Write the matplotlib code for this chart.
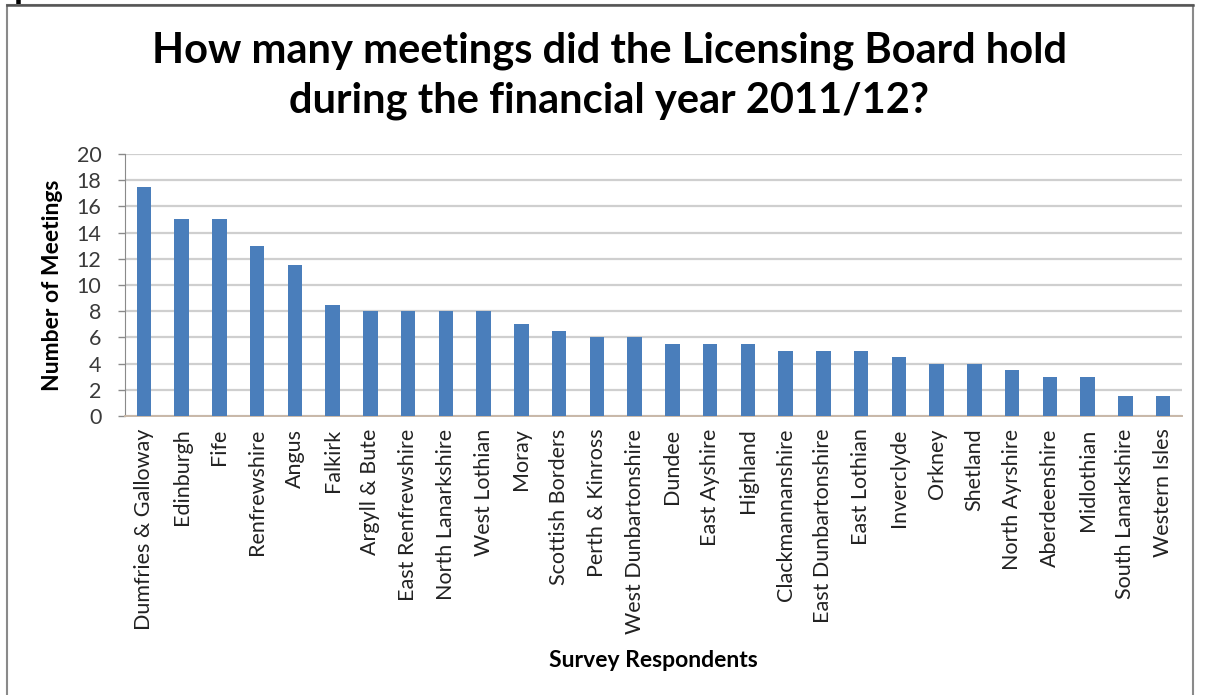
import matplotlib.pyplot as plt
from matplotlib.patches import Rectangle
import numpy as np

respondents = ["Dumfries & Galloway", "Edinburgh", "Fife", "Renfrewshire", "Angus",
               "Falkirk", "Argyll & Bute", "East Renfrewshire", "North Lanarkshire",
               "West Lothian", "Moray", "Scottish Borders", "Perth & Kinross",
               "West Dunbartonshire", "Dundee", "East Ayshire", "Highland",
               "Clackmannanshire", "East Dunbartonshire", "East Lothian", "Inverclyde",
               "Orkney", "Shetland", "North Ayrshire", "Aberdeenshire", "Midlothian",
               "South Lanarkshire", "Western Isles"]
meetings = [17.5, 15, 15, 13, 11.5, 8.5, 8, 8, 8, 8, 7, 6.5, 6, 6, 5.5, 5.5, 5.5,
            5, 5, 5, 4.5, 4, 4, 3.5, 3, 3, 1.5, 1.5]
yticks = [0, 2, 4, 6, 8, 10, 12, 14, 16, 18, 20]

plt.rcParams['font.family'] = ['Lato', 'DejaVu Sans']

W, H = 1205, 695
fig = plt.figure(figsize=(W / 100, H / 100), dpi=100)
fig.patch.set_facecolor('white')

# chart frame
fig.add_artist(Rectangle((7 / W, -0.05), 1186 / W, 1.05 - 5 / H,
                         transform=fig.transFigure, fill=False,
                         edgecolor='#8a8a8a', linewidth=1.5))
fig.add_artist(plt.Line2D([7 / W, 1193 / W], [1 - 5 / H, 1 - 5 / H],
                          transform=fig.transFigure, color='#555555', linewidth=1.8))
fig.text(14 / W, 1.003, "p", fontsize=26, fontweight='bold', color='black',
         ha='left', va='baseline')

ax = fig.add_axes([125 / W, 1 - 416 / H, (1182 - 125) / W, (416 - 154) / H])

x = np.arange(len(respondents))
ax.bar(x, meetings, width=0.38, color='#4a7ebb', zorder=3)

ax.set_xlim(-0.5, len(respondents) - 0.5)
ax.set_ylim(0, 20)
ax.set_yticks(yticks)
ax.set_yticklabels([str(v) for v in yticks], fontsize=15.5, color='#3a3a3a')
ax.set_xticks(x)
ax.set_xticklabels(respondents, rotation=90, fontsize=15.5, color='#222222')
ax.tick_params(axis='x', length=0, pad=9)
ax.tick_params(axis='y', length=5, width=1, color='#8a8a8a', direction='out', pad=12)

ax.grid(axis='y', color='#cfcfcf', linewidth=1.6, zorder=0)
for side in ['top', 'right']:
    ax.spines[side].set_visible(False)
ax.spines['left'].set_color('#8a8a8a')
ax.spines['bottom'].set_color('#c8b8a8')
ax.spines['bottom'].set_linewidth(1.4)

ax.set_ylabel("Number of Meetings", fontsize=16.5, fontweight='bold', labelpad=10)
ax.set_xlabel("Survey Respondents", fontsize=16.5, fontweight='bold', labelpad=12)

fig.text(609 / W, 1 - 63 / H, "How many meetings did the Licensing Board hold",
         fontsize=30, fontweight='bold', ha='center', va='baseline')
fig.text(609 / W, 1 - 112 / H, "during the financial year 2011/12?",
         fontsize=30, fontweight='bold', ha='center', va='baseline')

fig.savefig("out.png", dpi=100)
